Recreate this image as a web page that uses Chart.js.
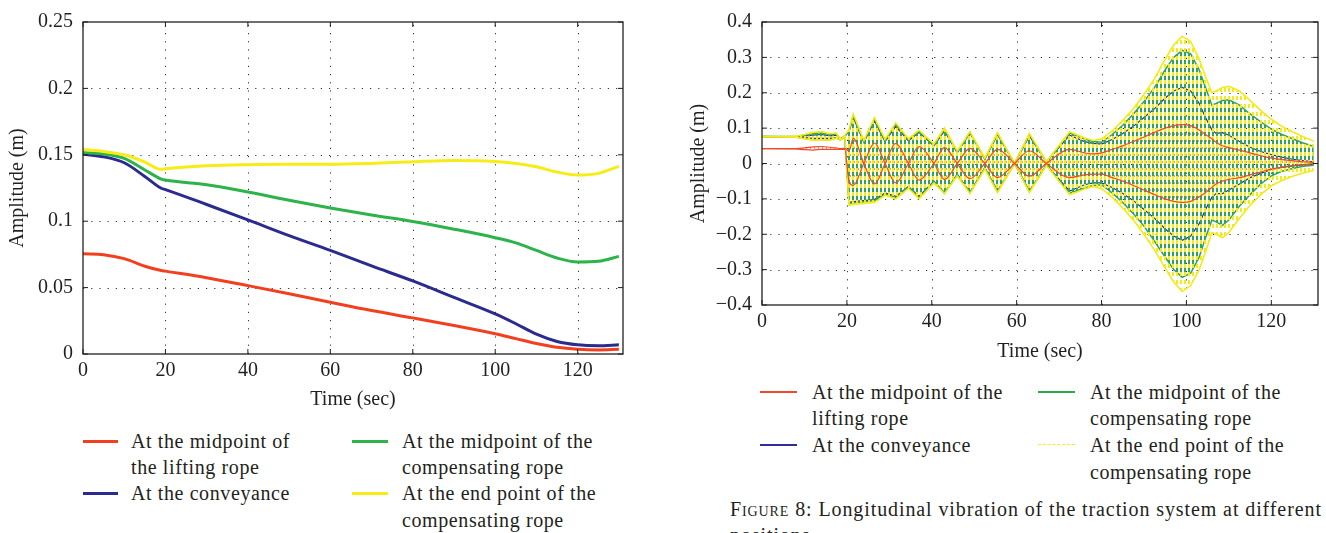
<!DOCTYPE html>
<html>
<head>
<meta charset="utf-8">
<script src="https://cdn.jsdelivr.net/npm/chart.js@4.4.0/dist/chart.umd.min.js"></script>
<style>
  html, body { margin: 0; padding: 0; background: #fff; }
  #page { position: relative; width: 1326px; height: 533px; overflow: hidden; font-family: 'Liberation Serif', 'DejaVu Serif', serif; color: #231f20; }
  #c1 { position: absolute; left: 0; top: 0; }
  #c2 { position: absolute; left: 680px; top: 0; }
  .t { position: absolute; font-size: 20px; letter-spacing: 0.6px; line-height: 22px; white-space: nowrap; }
  .cap { letter-spacing: 0.9px; }
  .k { position: absolute; }
</style>
</head>
<body>
<div id="page">
  <canvas id="c1" width="660" height="420"></canvas>
  <canvas id="c2" width="646" height="370"></canvas>

  <!-- left legend -->
  <div class="k" style="left:83px; top:440px; width:35px; height:3px; background:#f2401f;"></div>
  <div class="t" style="left:131px; top:430px;">At the midpoint of</div>
  <div class="t" style="left:131px; top:456px;">the lifting rope</div>
  <div class="k" style="left:83px; top:492px; width:35px; height:3px; background:#2b2a8f;"></div>
  <div class="t" style="left:131px; top:482px;">At the conveyance</div>
  <div class="k" style="left:352px; top:440px; width:36px; height:3px; background:#2db34a;"></div>
  <div class="t" style="left:402px; top:430px;">At the midpoint of the</div>
  <div class="t" style="left:402px; top:456px;">compensating rope</div>
  <div class="k" style="left:352px; top:492px; width:36px; height:3px; background:#f7ec17;"></div>
  <div class="t" style="left:402px; top:482px;">At the end point of the</div>
  <div class="t" style="left:402px; top:509px;">compensating rope</div>

  <!-- right legend -->
  <div class="k" style="left:760px; top:391px; width:37px; height:1.5px; background:#f04a2a;"></div>
  <div class="t" style="left:812px; top:381px;">At the midpoint of the</div>
  <div class="t" style="left:812px; top:407px;">lifting rope</div>
  <div class="k" style="left:760px; top:444px; width:37px; height:1.5px; background:#2e2e9a;"></div>
  <div class="t" style="left:812px; top:434px;">At the conveyance</div>
  <div class="k" style="left:1038px; top:391px; width:37px; height:1.5px; background:#2aa84a;"></div>
  <div class="t" style="left:1090px; top:381px;">At the midpoint of the</div>
  <div class="t" style="left:1090px; top:407px;">compensating rope</div>
  <div class="k" style="left:1038px; top:444px; width:37px; height:0; border-top:1.5px dashed #f5ee1a;"></div>
  <div class="t" style="left:1090px; top:434px;">At the end point of the</div>
  <div class="t" style="left:1090px; top:461px;">compensating rope</div>

  <div class="t cap" style="left:730px; top:498px;"><span style="font-variant:small-caps">Figure</span> 8: Longitudinal vibration of the traction system at different</div>
  <div class="t cap" style="left:730px; top:524px;">positions.</div>
</div>

<script>
// ---- left chart: amplitude envelopes ----
const timeL = [0, 5, 10, 15, 19, 20, 30, 40, 50, 60, 70, 80, 90, 100, 105, 110, 115, 120, 125, 130];
const midLift = [0.0755, 0.0748, 0.0718, 0.0661, 0.0629, 0.0624, 0.0574, 0.0515, 0.0453, 0.0389, 0.0327, 0.0272, 0.0215, 0.0153, 0.0116, 0.0079, 0.0050, 0.0035, 0.0030, 0.0035];
const conveyance = [0.1505, 0.1485, 0.1440, 0.1337, 0.1248, 0.1238, 0.1126, 0.1010, 0.0891, 0.0780, 0.0663, 0.0550, 0.0426, 0.0302, 0.0228, 0.0149, 0.0094, 0.0069, 0.0062, 0.0069];
const midComp = [0.1517, 0.1505, 0.1473, 0.1386, 0.1317, 0.1310, 0.1275, 0.1220, 0.1158, 0.1100, 0.1047, 0.0998, 0.0940, 0.0876, 0.0837, 0.0780, 0.0723, 0.0693, 0.0698, 0.0735];
const endComp = [0.1540, 0.1525, 0.1500, 0.1445, 0.1390, 0.1395, 0.1418, 0.1426, 0.1428, 0.1428, 0.1435, 0.1448, 0.1458, 0.1450, 0.1435, 0.1410, 0.1370, 0.1347, 0.1360, 0.1413];
const xTicks = [0, 20, 40, 60, 80, 100, 120];
const yTicksL = [0, 0.05, 0.1, 0.15, 0.2, 0.25];

// ---- right chart: vibration, two traces per series (upper / lower sample paths) ----
const timeR = [0, 8, 10, 12, 14, 16, 17.5, 18.5, 19.5,
  20.5, 21.5, 24, 26.5, 29, 31.5, 34.5, 37, 40.5, 43, 46, 49, 52.5, 55.5, 59.5, 63, 67, 72.5, 76, 78,
  80, 82.5, 85, 87.5, 90, 92.5, 95, 97, 99, 101, 103, 104.5, 106, 107, 108.5, 110, 112.5, 115, 117.5, 120, 122.5, 125, 127.5, 130];
const yelHi = [.076, .077, .082, .088, .090, .084, .086, .068, .080,
  .095, .140, .065, .130, .068, .115, .070, .094, .055, .100, .035, .090, .015, .087, .000, .085, .005, .090, .072, .065,
  .069, .092, .122, .155, .195, .240, .295, .335, .360, .345, .295, .245, .200, .205, .215, .218, .205, .178, .150, .125, .105, .090, .076, .063];
const yelLo = [.076, .074, .070, .066, .067, .066, .072, .066, .076,
  -.118, -.116, -.113, -.110, -.090, -.100, -.070, -.100, -.055, -.085, -.035, -.085, -.015, -.082, .000, -.082, -.005, -.088, -.072, -.065,
  -.071, -.095, -.126, -.160, -.200, -.245, -.296, -.335, -.362, -.345, -.300, -.250, -.195, -.200, -.210, -.195, -.155, -.118, -.088, -.063, -.048, -.036, -.027, -.020];
const grnHi = [.076, .076, .080, .085, .087, .082, .084, .068, .078,
  .092, .135, .062, .125, .065, .110, .067, .090, .052, .096, .033, .087, .013, .083, .000, .082, .004, .086, .069, .062,
  .060, .082, .108, .140, .175, .215, .265, .300, .320, .310, .265, .215, .165, .170, .178, .180, .165, .140, .118, .097, .082, .070, .058, .048];
const grnLo = [.076, .075, .071, .068, .068, .067, .072, .067, .076,
  -.113, -.111, -.108, -.105, -.086, -.096, -.067, -.096, -.052, -.082, -.033, -.082, -.013, -.079, .000, -.079, -.004, -.084, -.069, -.062,
  -.060, -.083, -.110, -.142, -.177, -.220, -.265, -.300, -.322, -.310, -.265, -.210, -.160, -.165, -.175, -.160, -.120, -.088, -.058, -.035, -.022, -.014, -.008, -.005];
const bluHi = [.076, .076, .078, .080, .082, .078, .080, .070, .077,
  .090, .130, .060, .120, .062, .105, .064, .088, .050, .092, .030, .087, .012, .082, .000, .078, .004, .080, .062, .057,
  .055, .068, .085, .105, .130, .155, .185, .205, .215, .205, .170, .130, .095, .085, .087, .080, .062, .046, .034, .025, .018, .012, .008, .005];
const bluLo = [.076, .075, .073, .071, .071, .071, .073, .069, .076,
  -.110, -.108, -.105, -.102, -.083, -.093, -.065, -.093, -.050, -.085, -.030, -.082, -.012, -.078, .000, -.078, -.004, -.078, -.060, -.055,
  -.055, -.068, -.085, -.105, -.130, -.155, -.185, -.205, -.217, -.205, -.170, -.130, -.095, -.085, -.085, -.075, -.058, -.040, -.028, -.017, -.011, -.007, -.004, -.002];
const redA = [.042, .042, .044, .047, .048, .046, .044, .042, .043,
  .035, .072, .000, -.058, .000, .057, .000, -.047, .000, .045, .000, -.043, .000, .040, .000, -.036, .000, .040, .030, .027,
  .030, .040, .050, .062, .075, .088, .100, .107, .110, .107, .095, .082, .070, .060, .050, .045, .038, .030, .022, .015, .011, .008, .005, .003];
const redB = [.042, .041, .039, .038, .040, .040, .040, .040, .040,
  -.050, -.062, .000, .058, .000, -.055, .000, .048, .000, -.045, .000, .043, .000, -.040, .000, .036, .000, -.040, -.032, -.030,
  -.030, -.040, -.050, -.062, -.075, -.088, -.100, -.107, -.110, -.107, -.095, -.082, -.068, -.058, -.050, -.045, -.040, -.032, -.024, -.016, -.010, -.006, -.003, .000];
const yTicksR = [-0.4, -0.3, -0.2, -0.1, 0, 0.1, 0.2, 0.3, 0.4];

const ink = '#231f20';
const tickFont = { family: "'Liberation Serif', serif", size: 20 };

function fmt(v) {
  return v < 0 ? '\u2212' + Math.abs(v) : String(v);
}

// MATLAB-like box, dotted grid and inward ticks
const matlabFrame = {
  id: 'matlabFrame',
  beforeDatasetsDraw(chart) {
    const { ctx, chartArea: a, scales } = chart;
    ctx.save();
    ctx.strokeStyle = '#333';
    ctx.lineWidth = 1;
    ctx.setLineDash([1.2, 7]);
    ctx.beginPath();
    scales.x.ticks.forEach(t => {
      const px = Math.round(scales.x.getPixelForValue(t.value)) + 0.5;
      if (px - a.left < 2 || a.right - px < 2) return;
      ctx.moveTo(px, a.bottom); ctx.lineTo(px, a.top);
    });
    scales.y.ticks.forEach(t => {
      const py = Math.round(scales.y.getPixelForValue(t.value)) + 0.5;
      if (py - a.top < 2 || a.bottom - py < 2) return;
      ctx.moveTo(a.left, py); ctx.lineTo(a.right, py);
    });
    ctx.stroke();
    ctx.restore();
  },
  afterDraw(chart) {
    const { ctx, chartArea: a, scales } = chart;
    ctx.save();
    ctx.strokeStyle = ink;
    ctx.lineWidth = 1.3;
    ctx.strokeRect(a.left, a.top, a.right - a.left, a.bottom - a.top);
    ctx.lineWidth = 1;
    ctx.beginPath();
    scales.x.ticks.forEach(t => {
      const px = scales.x.getPixelForValue(t.value);
      ctx.moveTo(px, a.bottom); ctx.lineTo(px, a.bottom - 5);
      ctx.moveTo(px, a.top); ctx.lineTo(px, a.top + 5);
    });
    scales.y.ticks.forEach(t => {
      const py = scales.y.getPixelForValue(t.value);
      ctx.moveTo(a.left, py); ctx.lineTo(a.left + 5, py);
      ctx.moveTo(a.right, py); ctx.lineTo(a.right - 5, py);
    });
    ctx.stroke();
    ctx.restore();
  }
};

function axes(yTicks, yMin, yMax, yWidth, xHeight, xTitlePad, yTitlePad) {
  return {
    x: {
      type: 'linear', min: 0, max: 131,
      afterBuildTicks: s => { s.ticks = xTicks.map(v => ({ value: v })); },
      afterFit: s => { s.height = xHeight; },
      grid: { display: false, drawTicks: false }, border: { display: false },
      ticks: { padding: 5, color: ink, font: tickFont, maxRotation: 0, callback: fmt },
      title: { display: true, text: 'Time (sec)', color: ink, font: tickFont, padding: { top: 0, bottom: xTitlePad } }
    },
    y: {
      min: yMin, max: yMax,
      afterBuildTicks: s => { s.ticks = yTicks.map(v => ({ value: v })); },
      afterFit: s => { s.width = yWidth; },
      grid: { display: false, drawTicks: false }, border: { display: false },
      ticks: { padding: 10, color: ink, font: tickFont, callback: fmt },
      title: { display: true, text: 'Amplitude (m)', color: ink, font: tickFont, padding: { top: yTitlePad, bottom: 0 } }
    }
  };
}

function line(label, xs, ys, color, width, extra) {
  return Object.assign({
    label: label,
    data: xs.map((t, i) => ({ x: t, y: ys[i] })),
    borderColor: color,
    backgroundColor: color,
    borderWidth: width,
    pointRadius: 0,
    fill: false,
    tension: 0
  }, extra || {});
}

new Chart(document.getElementById('c1').getContext('2d'), {
  type: 'line',
  data: {
    datasets: [
      line('At the end point of the compensating rope', timeL, endComp, '#f7ec17', 3, { cubicInterpolationMode: 'monotone' }),
      line('At the midpoint of the compensating rope', timeL, midComp, '#2db34a', 3, { cubicInterpolationMode: 'monotone' }),
      line('At the conveyance', timeL, conveyance, '#2b2a8f', 3, { cubicInterpolationMode: 'monotone' }),
      line('At the midpoint of the lifting rope', timeL, midLift, '#f2401f', 3, { cubicInterpolationMode: 'monotone' })
    ]
  },
  options: {
    responsive: false,
    animation: false,
    layout: { padding: { top: 17, right: 37, left: 0, bottom: 0 } },
    plugins: { legend: { display: false }, tooltip: { enabled: false } },
    scales: axes(yTicksL, 0, 0.25, 83, 66, 8, 5.5)
  },
  plugins: [matlabFrame]
});

// vertical stroke texture for the fast oscillation between the two traces
function strokes(color, x0, w, h, on) {
  const c = document.createElement('canvas');
  c.width = 4; c.height = h;
  const g = c.getContext('2d');
  g.fillStyle = color;
  g.fillRect(x0, 0, w, on);
  return g.createPattern(c, 'repeat');
}

const Y = '#f3ea18', G = '#34a352', B = '#2e2e9a', R = '#f04a2a';
const ctx2 = document.getElementById('c2').getContext('2d');
const smooth = { cubicInterpolationMode: 'monotone' };

new Chart(ctx2, {
  type: 'line',
  data: {
    datasets: [
      // red traces drawn on top, their stroke texture at the bottom
      line('lift a', timeR, redA, R, 1.2, Object.assign({ order: -1 }, smooth)),
      line('lift b', timeR, redB, R, 1.2, Object.assign({ order: -1 }, smooth)),
      line('end a', timeR, yelHi, Y, 1.6, { order: 0 }),
      line('end b', timeR, yelLo, Y, 1.6, { order: 0, fill: '-1', backgroundColor: strokes(Y, 0, 2, 8, 4) }),
      line('mid comp a', timeR, grnHi, G, 1.5, { order: 1 }),
      line('mid comp b', timeR, grnLo, G, 1.5, { order: 1, fill: '-1', backgroundColor: strokes(G, 0, 2, 8, 8) }),
      line('conv a', timeR, bluHi, B, 1.2, { order: 2 }),
      line('conv b', timeR, bluLo, B, 1.2, { order: 2, fill: '-1', backgroundColor: strokes(B, 0, 2, 8, 8) }),
      line('lift a fill', timeR, redA, R, 0, Object.assign({ order: 3 }, smooth)),
      line('lift b fill', timeR, redB, R, 0, Object.assign({ order: 3, fill: '-1', backgroundColor: strokes('#f4977c', 2, 1, 7, 2) }, smooth))
    ]
  },
  options: {
    responsive: false,
    animation: false,
    layout: { padding: { top: 16, right: 8, left: 0, bottom: 0 } },
    plugins: { legend: { display: false }, tooltip: { enabled: false } },
    scales: axes(yTicksR, -0.4, 0.4, 82, 65, 6.5, 6.5)
  },
  plugins: [matlabFrame]
});
</script>
</body>
</html>
